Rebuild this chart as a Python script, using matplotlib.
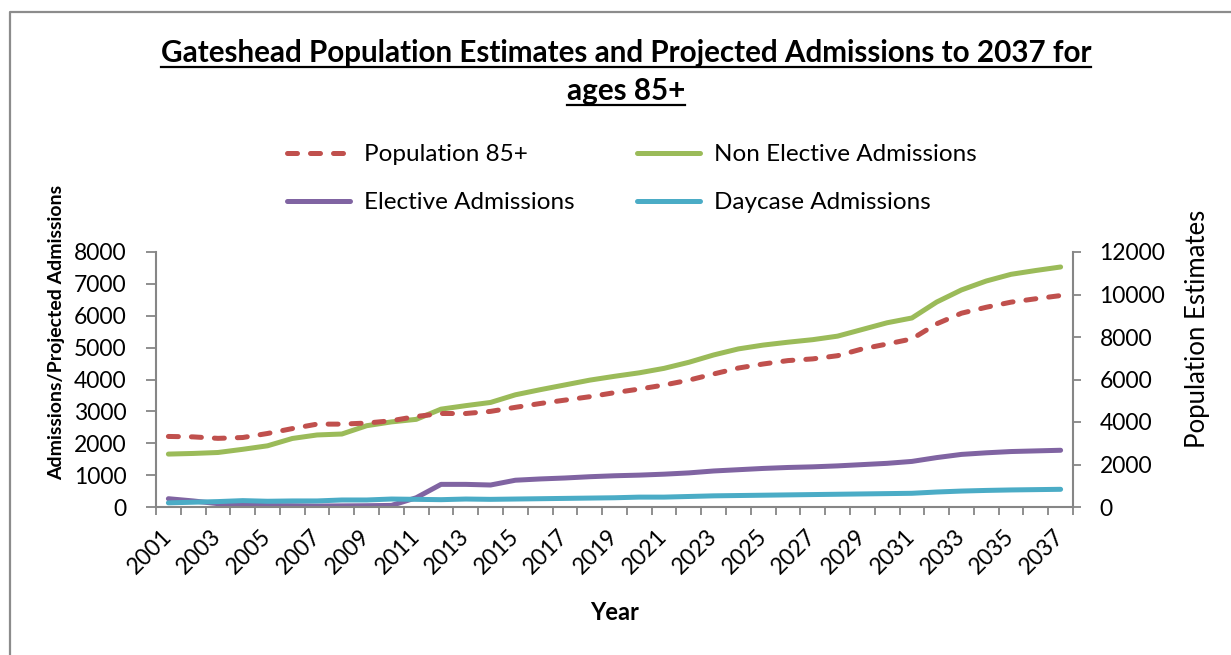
import matplotlib
matplotlib.use("Agg")
import matplotlib.pyplot as plt
from matplotlib.lines import Line2D

plt.rcParams['font.family'] = ['Lato', 'DejaVu Sans']

years = list(range(2001, 2038))

# population estimates (right axis)
population = [3320, 3300, 3230, 3270, 3460, 3690, 3900, 3900, 3950, 4060,
              4260, 4400, 4400, 4500, 4690, 4870, 5030, 5190, 5380, 5550,
              5740, 5970, 6260, 6540, 6730, 6890, 6970, 7120, 7440, 7670,
              7910, 8620, 9120, 9400, 9640, 9800, 9950]

# admissions (left axis)
non_elective = [1660, 1680, 1710, 1810, 1920, 2150, 2260, 2290, 2550, 2670,
                2750, 3070, 3180, 3280, 3520, 3680, 3830, 3980, 4100, 4210,
                4350, 4540, 4770, 4960, 5080, 5170, 5250, 5360, 5570, 5780,
                5930, 6430, 6810, 7090, 7300, 7420, 7530]
elective = [260, 190, 105, 55, 45, 40, 30, 35, 40, 50,
            290, 710, 710, 690, 840, 880, 910, 950, 980, 1000,
            1030, 1070, 1130, 1170, 1210, 1240, 1260, 1290, 1330, 1370,
            1430, 1550, 1650, 1700, 1740, 1760, 1780]
daycase = [130, 150, 170, 200, 180, 190, 190, 220, 220, 250,
           240, 230, 250, 240, 250, 260, 270, 280, 290, 310,
           310, 330, 350, 360, 370, 380, 390, 400, 410, 420,
           430, 470, 500, 520, 535, 545, 555]

left_ticks = list(range(0, 8001, 1000))
right_ticks = list(range(0, 12001, 2000))

RED = '#C0504D'
GREEN = '#9BBB59'
PURPLE = '#8064A2'
TEAL = '#4BACC6'
GREY = '#868686'

W, H = 1231, 655
fig = plt.figure(figsize=(W / 100, H / 100), dpi=100)
ax = fig.add_axes([156 / W, 1 - 507 / H, (1073 - 156) / W, (507 - 252) / H])
ax2 = ax.twinx()

x = list(range(len(years)))
lw = 3.6
kw = dict(linewidth=lw, solid_capstyle='round', solid_joinstyle='round')
l_non, = ax.plot(x, non_elective, color=GREEN, label='Non Elective Admissions', **kw)
l_el, = ax.plot(x, elective, color=PURPLE, label='Elective Admissions', **kw)
l_day, = ax.plot(x, daycase, color=TEAL, label='Daycase Admissions', **kw)
l_pop, = ax2.plot(x, population, color=RED, linewidth=lw, dashes=(2.0, 2.6),
                  dash_capstyle='round', label='Population 85+')

ax.set_xlim(-0.5, len(years) - 0.5)
ax.set_ylim(0, 8000)
ax2.set_ylim(0, 12000)
ax.set_yticks(left_ticks)
ax2.set_yticks(right_ticks)

# year labels on every other category, tick marks on category boundaries
ax.set_xticks(x[::2])
ax.set_xticklabels([str(y) for y in years[::2]], rotation=45,
                   ha='right', va='center', rotation_mode='anchor')
ax.set_xticks([i - 0.5 for i in range(len(years) + 1)], minor=True)
ax.tick_params(axis='x', which='major', length=0, pad=19, labelsize=16.5)
ax.tick_params(axis='x', which='minor', length=6, width=1.3, color=GREY)
ax.tick_params(axis='y', length=7, width=1.3, color=GREY, pad=14, labelsize=16.5)
ax2.tick_params(axis='y', length=6, width=1.3, color=GREY, pad=13, labelsize=16.5)

for s in ['top', 'right']:
    ax.spines[s].set_visible(False)
for s in ['top', 'left', 'bottom']:
    ax2.spines[s].set_visible(False)
for a, s in [(ax, 'left'), (ax, 'bottom'), (ax2, 'right')]:
    a.spines[s].set_color(GREY)
    a.spines[s].set_linewidth(1.5)

fig.text(57 / W, 1 - 332 / H, 'Admissions/Projected Admissions', rotation=90,
         ha='center', va='center', fontsize=14, fontweight='bold')
fig.text(1198 / W, 1 - 329 / H, 'Population Estimates', rotation=90,
         ha='center', va='center', fontsize=18.5)
fig.text(615 / W, 1 - 620 / H, 'Year', ha='center', va='baseline',
         fontsize=17, fontweight='bold')

t1 = fig.text(626 / W, 1 - 62 / H,
              'Gateshead Population Estimates and Projected Admissions to 2037 for',
              ha='center', va='baseline', fontsize=21.3, fontweight='bold')
t2 = fig.text(626 / W, 1 - 100 / H, 'ages 85+', ha='center', va='baseline',
              fontsize=21.3, fontweight='bold')

fig.legend(handles=[l_pop, l_el, l_non, l_day], ncol=2, frameon=False,
           loc='upper left', bbox_to_anchor=(287 / W, 1 - 144 / H),
           borderpad=0, borderaxespad=0, fontsize=17.5, handlelength=2.6,
           handletextpad=0.58, columnspacing=2.55, labelspacing=1.12)

# underline the title lines
fig.canvas.draw()
r = fig.canvas.get_renderer()
for t, base in [(t1, 62), (t2, 100)]:
    bb = t.get_window_extent(r)
    yl = H - base - 5
    fig.add_artist(Line2D([bb.x0, bb.x1], [yl, yl], transform=None,
                          color='black', linewidth=1.6))

# outer chart border
fig.add_artist(Line2D([10, 10, W], [0, H - 11.5, H - 11.5], transform=None,
                      color='#8C8C8C', linewidth=1.6))

fig.savefig('out.png', dpi=100)
